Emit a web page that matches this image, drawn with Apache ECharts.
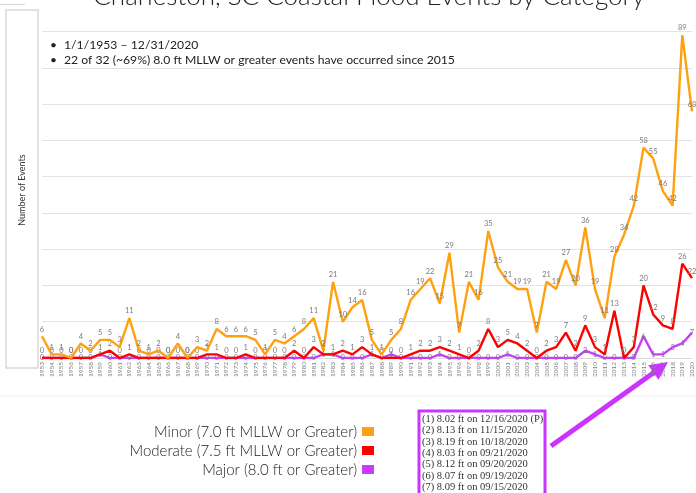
<!DOCTYPE html>
<html><head><meta charset="utf-8">
<script src="https://cdn.jsdelivr.net/npm/echarts@6/dist/echarts.min.js"></script>
<style>html,body{margin:0;padding:0;background:#fff}#c{width:696px;height:493px}</style>
</head><body><div id="c"></div>
<script>
const years = ['1953','1954','1955','1956','1957','1958','1959','1960','1961','1962','1963','1964','1965','1966','1967','1968','1969','1970','1971','1972','1973','1974','1975','1976','1977','1978','1979','1980','1981','1982','1983','1984','1985','1986','1987','1988','1989','1990','1991','1992','1993','1994','1995','1996','1997','1998','1999','2000','2001','2002','2003','2004','2005','2006','2007','2008','2009','2010','2011','2012','2013','2014','2015','2016','2017','2018','2019','2020'];
const minor = [6,1,1,0,4,2,5,5,3,11,2,1,2,0,4,0,3,2,8,6,6,6,5,1,5,4,6,8,11,2,21,10,14,16,5,1,5,8,16,19,22,15,29,7,21,16,35,25,21,19,19,7,21,19,27,20,36,19,11,28,34,42,58,55,46,42,89,68];
const moderate = [0,0,0,0,0,0,1,2,0,1,0,0,0,0,0,0,0,1,1,0,0,1,0,0,0,0,2,0,3,1,1,2,1,3,1,0,0,0,1,2,2,3,2,1,0,2,8,3,5,4,2,0,2,3,7,2,9,3,1,13,0,3,20,12,9,8,26,22];
const major = [0,0,0,0,0,0,1,0,0,0,0,0,0,0,0,0,0,0,0,0,0,0,0,0,0,0,0,0,0,1,1,0,0,0,1,0,1,0,0,0,0,1,0,0,0,0,0,0,1,0,0,0,0,0,0,0,2,1,0,0,0,0,6,1,1,3,4,7];
const seriesNames = ['Minor (7.0 ft MLLW or Greater)','Moderate (7.5 ft MLLW or Greater)','Major (8.0 ft or Greater)'];
const colors = ['#ffa010','#ff0000','#c83cff'];
const noteLines = ['(1) 8.02 ft on 12/16/2020 (P)','(2) 8.13 ft on 11/15/2020','(3) 8.19 ft on 10/18/2020','(4) 8.03 ft on 09/21/2020','(5) 8.12 ft on 09/20/2020','(6) 8.07 ft on 09/19/2020','(7) 8.09 ft on 09/15/2020'];
const bullets = ['1/1/1953 \u2013 12/31/2020','22 of 32 (~69%) 8.0 ft MLLW or greater events have occurred since 2015'];

const chart = echarts.init(document.getElementById('c'));
const lbl = {show:true, fontSize:7.5, color:'#7a7a7a', fontFamily:'Lato'};
const legendG = seriesNames.map((n,i)=>({
  type:'group', children:[
    {type:'text', style:{text:n, x:357, y:432+i*19, textAlign:'right', textVerticalAlign:'middle', font:'300 15px Lato', fill:'#222'}},
    {type:'rect', shape:{x:362, y:427+i*19, width:12, height:9}, style:{fill:colors[i]}}
  ]}));
const noteG = noteLines.map((t,i)=>({type:'text', style:{text:t, x:422, y:419+i*11.4, textVerticalAlign:'middle', font:'10.5px "Liberation Serif"', fill:'#333'}}));
const bulletG = [];
bullets.forEach((t,i)=>{
  bulletG.push({type:'text', style:{text:'\u2022', x:50, y:45+i*15, textVerticalAlign:'middle', font:'12px Lato', fill:'#222'}});
  bulletG.push({type:'text', style:{text:t, x:64, y:45+i*15, textVerticalAlign:'middle', font:'12.2px Lato', fill:'#222'}});
});
function mk(i, data, pos, z){
  return {name:seriesNames[i], type:'line', data:data, symbol:'circle', symbolSize:0.1, showSymbol:true,
    lineStyle:{width:2.4, color:colors[i]}, itemStyle:{color:colors[i]},
    label:Object.assign({position:pos, distance:3}, lbl), labelLayout:{hideOverlap:false}, z:z};
}
chart.setOption({
  animation:false,
  backgroundColor:'#fff',
  grid:{left:42, right:4, top:31.5, bottom:135},
  xAxis:{type:'category', data:years, boundaryGap:false,
    axisLine:{lineStyle:{color:'#d9d9d9'}}, axisTick:{show:false},
    axisLabel:{rotate:90, fontSize:6.5, color:'#808080', margin:4, interval:0, fontFamily:'Lato'}},
  yAxis:{type:'value', min:0, max:90, interval:10, axisLabel:{show:false}, axisLine:{show:false}, axisTick:{show:false},
    splitLine:{lineStyle:{color:'#e3e3e3'}}},
  series:[
    mk(0, minor, 'top', 3),
    mk(1, moderate, 'top', 2),
    mk(2, major, 'inside', 1)
  ],
  graphic:[
    {type:'text', style:{text:'Charleston, SC Coastal Flood Events by Category', x:369, y:10, textAlign:'center', textVerticalAlign:'bottom', font:'300 26px Lato', fill:'#222'}},
    {type:'rect', shape:{x:6, y:10, width:32, height:358}, style:{fill:'none', stroke:'#d9d9d9', lineWidth:1.5}},
    {type:'line', shape:{x1:0, y1:4.5, x2:25, y2:4.5}, style:{stroke:'#d9d9d9', lineWidth:1}},
    {type:'line', shape:{x1:0, y1:396, x2:696, y2:396}, style:{stroke:'#ececec', lineWidth:1}},
    {type:'text', rotation:Math.PI/2, x:22, y:190, style:{text:'Number of Events', textAlign:'center', textVerticalAlign:'middle', font:'9px Lato', fill:'#333'}},
    ...bulletG,
    ...legendG,
    {type:'rect', shape:{x:419, y:411, width:126, height:90}, style:{fill:'#fff', stroke:'#cc33ff', lineWidth:3}},
    ...noteG,
    {type:'line', shape:{x1:551, y1:446, x2:656, y2:371}, style:{stroke:'#cc33ff', lineWidth:5}},
    {type:'polygon', shape:{points:[[668,362],[658.6,379.8],[648.2,365.2]]}, style:{fill:'#cc33ff'}}
  ]
});
</script></body></html>
